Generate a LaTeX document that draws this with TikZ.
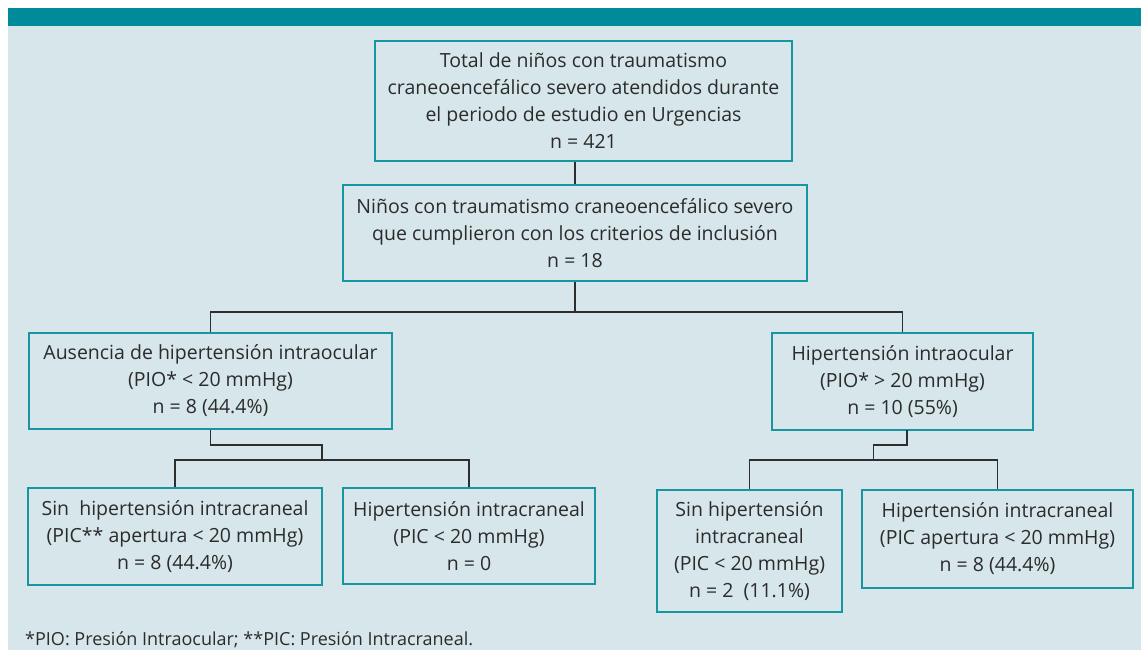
\documentclass[tikz,border=0pt]{standalone}
\usepackage{fontspec}
\setmainfont{Open Sans}
\definecolor{barcol}{HTML}{008A9A}
\definecolor{bgcol}{HTML}{D6E6EA}
\definecolor{boxcol}{HTML}{1795A1}
\definecolor{txtcol}{HTML}{2B2B2B}
\definecolor{linecol}{HTML}{2E2E2E}
\tikzset{
  fbox/.style={draw=boxcol, line width=2.6pt, rectangle, inner sep=0pt, align=center,
    text=txtcol, font=\fontsize{19.5}{27}\selectfont},
  conn/.style={draw=linecol, line width=1.8pt}
}
\begin{document}
\begin{tikzpicture}[x=1pt,y=-1pt]
\useasboundingbox (0,0) rectangle (1141,650);
\fill[white] (0,0) rectangle (1141,650);
\fill[bgcol] (8,26) rectangle (1141,650);
\fill[barcol] (8,8) rectangle (1141,26);

\node[fbox, minimum width=417pt, minimum height=120pt] (b1) at (583.5,101)
  {Total de niños con traumatismo\\craneoencefálico severo atendidos durante\\el periodo de estudio en Urgencias\\n = 421};
\node[fbox, minimum width=464pt, minimum height=96pt] (b2) at (575,233)
  {Niños con traumatismo craneoencefálico severo\\que cumplieron con los criterios de inclusión\\n = 18};
\node[fbox, minimum width=363pt, minimum height=96pt] (b3) at (210.5,381)
  {Ausencia de hipertensión intraocular\\(PIO* < 20 mmHg)\\n = 8 (44.4\%)};
\node[fbox, minimum width=261pt, minimum height=97pt] (b4) at (902.5,381.5)
  {Hipertensión intraocular\\(PIO* > 20 mmHg)\\n = 10 (55\%)};
\node[fbox, minimum width=294pt, minimum height=97pt] (b5) at (175,536.5)
  {Sin\ \ hipertensión intracraneal\\(PIC** apertura < 20 mmHg)\\n = 8 (44.4\%)};
\node[fbox, minimum width=252pt, minimum height=96pt] (b6) at (469,536)
  {Hipertensión intracraneal\\(PIC < 20 mmHg)\\n = 0};
\node[fbox, minimum width=185pt, minimum height=122pt] (b7) at (749.5,551)
  {Sin hipertensión\\intracraneal\\(PIC < 20 mmHg)\\n = 2\ \ (11.1\%)};
\node[fbox, minimum width=271pt, minimum height=98pt] (b8) at (997.5,539)
  {Hipertensión intracraneal\\(PIC apertura < 20 mmHg)\\n = 8 (44.4\%)};

\node[anchor=base west, inner sep=0pt, text=txtcol, font=\fontsize{18}{20}\selectfont] (foot) at (25,645)
  {*PIO: Presión Intraocular; **PIC: Presión Intracraneal.};

% connectors
\draw[conn] (b2.north) -- (b2.north |- b1.south);
\draw[conn] (b2.south) -- (b2.south |- 0,312) (b3.north) -- (b3.north |- 0,312) -| (b4.north);
\coordinate (j3) at (322,445);
\draw[conn] (b3.south) |- (j3) -- (322,460);
\draw[conn] (b5.north) -- (b5.north |- 0,460) -| (b6.north);
\coordinate (j4a) at (907,430);
\coordinate (j4) at (873.5,445);
\draw[conn] (j4a) |- (j4) -- (873.5,460);
\draw[conn] (b7.north) -- (b7.north |- 0,460) -| (b8.north);
\end{tikzpicture}
\end{document}
